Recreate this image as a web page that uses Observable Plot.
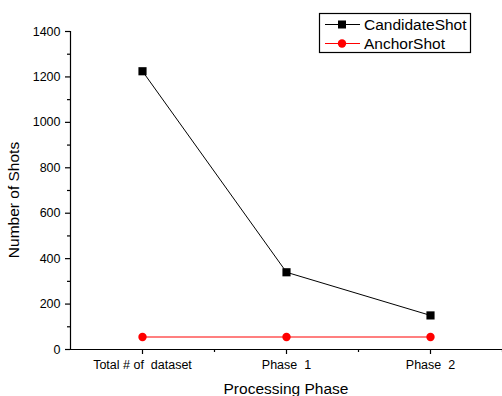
<!DOCTYPE html>
<html>
<head>
<meta charset="utf-8">
<script src="https://cdn.jsdelivr.net/npm/d3@7"></script>
<script src="https://cdn.jsdelivr.net/npm/@observablehq/plot@0.6"></script>
<style>
  html, body { margin: 0; padding: 0; background: #fff; }
  #chart { position: relative; width: 502px; height: 396px; }
  svg text { font-family: "Liberation Sans", Arial, sans-serif; }
</style>
</head>
<body>
<div id="chart"></div>
<script>
const categories = ["Total # of  dataset", "Phase  1", "Phase  2"];
const candidateShot = [1225, 340, 150];
const anchorShot = [55, 55, 55];
const yMajorTicks = [0, 200, 400, 600, 800, 1000, 1200, 1400];
const yMinorTicks = [100, 300, 500, 700, 900, 1100, 1300];
const seriesNames = ["CandidateShot", "AnchorShot"];
const seriesColors = ["#000000", "#ff0000"];

const candData = categories.map((c, i) => ({x: i + 1, y: candidateShot[i]}));
const anchData = categories.map((c, i) => ({x: i + 1, y: anchorShot[i]}));
const xMajor = categories.map((c, i) => i + 1);
const xMinor = categories.map((c, i) => i + 1.5);

const plot = Plot.plot({
  width: 502,
  height: 396,
  marginLeft: 70,
  marginRight: 0,
  marginTop: 31,
  marginBottom: 47,
  style: {fontFamily: "Liberation Sans, Arial, sans-serif", color: "#000", background: "#fff", overflow: "visible"},
  x: {domain: [0.5, 3.5]},
  y: {domain: [0, 1400]},
  marks: [
    Plot.ruleY([0], {stroke: "#000", strokeWidth: 1.2}),
    Plot.ruleX([0.5], {y1: 0, y2: 1400, stroke: "#000", strokeWidth: 1.2}),
    Plot.axisY({ticks: yMajorTicks, tickSize: 5, tickPadding: 5, fontSize: 12.5, tickFormat: d => String(d), label: null, stroke: "#000", strokeWidth: 1.2, color: "#000"}),
    Plot.axisY({ticks: yMinorTicks, tickSize: 3, tickFormat: () => "", label: null, stroke: "#000", strokeWidth: 1.2}),
    Plot.axisX({ticks: xMajor, tickSize: 5, tickPadding: 6, fontSize: 12.5, tickFormat: d => categories[d - 1], label: null, stroke: "#000", strokeWidth: 1.2}),
    Plot.axisX({ticks: xMinor, tickSize: 3, tickFormat: () => "", label: null, stroke: "#000", strokeWidth: 1.2}),
    Plot.line(anchData, {x: "x", y: "y", stroke: seriesColors[1], strokeWidth: 1.2}),
    Plot.dot(anchData, {x: "x", y: "y", fill: seriesColors[1], r: 4.2, symbol: "circle"}),
    Plot.line(candData, {x: "x", y: "y", stroke: seriesColors[0], strokeWidth: 1}),
    Plot.dot(candData, {x: "x", y: "y", fill: seriesColors[0], r: 4.6, symbol: "square"})
  ]
});

document.getElementById("chart").appendChild(plot);
const svg = d3.select(plot);
svg.selectAll("text").style("white-space", "pre").attr("fill", "#000");

// axis titles
svg.append("text")
  .attr("x", 286).attr("y", 394)
  .attr("text-anchor", "middle")
  .attr("font-size", 15.5)
  .attr("fill", "#000")
  .text("Processing Phase");
svg.append("text")
  .attr("transform", "translate(19,200) rotate(-90)")
  .attr("text-anchor", "middle")
  .attr("font-size", 15.5)
  .attr("fill", "#000")
  .text("Number of Shots");

// legend
const lg = svg.append("g").attr("text-anchor", "start");
lg.append("rect").attr("x", 319.5).attr("y", 13.5).attr("width", 151).attr("height", 39)
  .attr("fill", "#fff").attr("stroke", "#000").attr("stroke-width", 1.2);
seriesNames.forEach((name, i) => {
  const cy = 24.5 + i * 19;
  lg.append("line").attr("x1", 325).attr("x2", 360).attr("y1", cy).attr("y2", cy)
    .attr("stroke", seriesColors[i]).attr("stroke-width", 1.2);
  if (i === 0) {
    lg.append("rect").attr("x", 338).attr("y", cy - 4).attr("width", 8).attr("height", 8).attr("fill", seriesColors[i]);
  } else {
    lg.append("circle").attr("cx", 342).attr("cy", cy).attr("r", 4.2).attr("fill", seriesColors[i]);
  }
  lg.append("text").attr("x", 364).attr("y", cy).attr("dy", "0.35em")
    .attr("text-anchor", "start")
    .attr("font-size", 15.5).attr("fill", "#000").text(name);
});
</script>
</body>
</html>
